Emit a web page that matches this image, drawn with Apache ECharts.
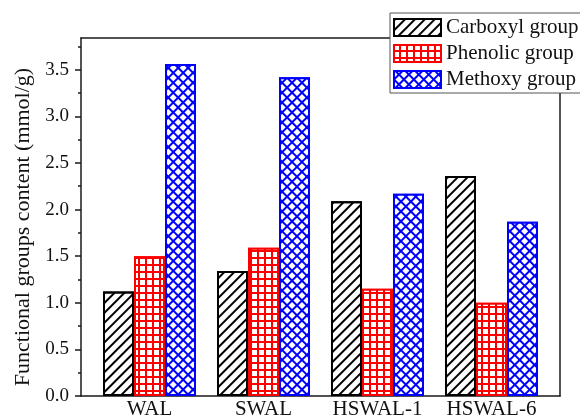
<!DOCTYPE html>
<html><head><meta charset="utf-8">
<script src="https://cdn.jsdelivr.net/npm/echarts@6/dist/echarts.min.js"></script>
<style>html,body{margin:0;padding:0;background:#fff}#c{width:580px;height:418px}</style>
</head><body><div id="c"></div>
<script>
var categories = ['WAL', 'SWAL', 'HSWAL-1', 'HSWAL-6'];
var carboxyl = [1.12, 1.34, 2.09, 2.36];
var phenolic = [1.50, 1.59, 1.15, 1.00];
var methoxy = [3.56, 3.42, 2.17, 1.87];
var seriesNames = ['Carboxyl group', 'Phenolic group', 'Methoxy group'];
var majorTicks = [0, 0.5, 1.0, 1.5, 2.0, 2.5, 3.0, 3.5];
var minorTicks = [0.25, 0.75, 1.25, 1.75, 2.25, 2.75, 3.25, 3.75];
var yMax = 3.84;

var FONT = 'Liberation Serif';
var LC = '#1a1a1a';
var chart = echarts.init(document.getElementById('c'));
var frameX = function (pos) {
  return { gridIndex: 0, type: 'value', min: 0, max: 1, position: pos,
    axisLine: { show: true, onZero: false, lineStyle: { color: LC, width: 1.5 } },
    axisTick: { show: false }, axisLabel: { show: false }, splitLine: { show: false } };
};
chart.setOption({
  animation: false,
  grid: [
    { left: 81, right: 20, top: 38, bottom: 22, outerBoundsMode: 'none', containLabel: false },
    { left: 92.5, right: 31.5, top: 38, bottom: 22, outerBoundsMode: 'none', containLabel: false }
  ],
  legend: {
    orient: 'vertical', left: 390, top: 13, icon: 'rect',
    itemWidth: 47, itemHeight: 17, itemGap: 5, itemTextGap: 7,
    padding: [4, 10, 3, 3],
    backgroundColor: '#fff', borderColor: '#555', borderWidth: 1,
    textStyle: { fontFamily: FONT, fontSize: 21, color: '#111' },
    data: seriesNames
  },
  xAxis: [
    frameX('bottom'),
    frameX('top'),
    { gridIndex: 1, type: 'category', data: categories,
      axisLine: { show: false }, axisTick: { show: false },
      axisLabel: { interval: 0, fontFamily: FONT, fontSize: 21, color: '#111', margin: 3 } }
  ],
  yAxis: [
    { gridIndex: 0, type: 'value', min: 0, max: yMax, position: 'left',
      name: 'Functional groups content (mmol/g)', nameLocation: 'middle', nameGap: 44,
      nameTextStyle: { fontFamily: FONT, fontSize: 22, color: '#111', padding: [0, 20, 0, 0] },
      axisLine: { show: true, onZero: false, lineStyle: { color: LC, width: 1.5 } },
      axisTick: { show: true, inside: false, length: 6, customValues: majorTicks, lineStyle: { color: LC, width: 1.5 } },
      axisLabel: { customValues: majorTicks, fontFamily: FONT, fontSize: 19, color: '#111', margin: 12,
        formatter: function (v) { return v.toFixed(1); } },
      splitLine: { show: false } },
    { gridIndex: 0, type: 'value', min: 0, max: yMax, position: 'left',
      axisLine: { show: false, onZero: false },
      axisTick: { show: true, inside: false, length: 3, customValues: minorTicks, lineStyle: { color: LC, width: 1.5 } },
      axisLabel: { show: false }, splitLine: { show: false } },
    { gridIndex: 0, type: 'value', min: 0, max: yMax, position: 'right',
      axisLine: { show: true, onZero: false, lineStyle: { color: LC, width: 1.5 } },
      axisTick: { show: false }, axisLabel: { show: false }, splitLine: { show: false } },
    { gridIndex: 1, type: 'value', min: 0, max: yMax, show: false }
  ],
  series: [
    { name: seriesNames[0], type: 'bar', xAxisIndex: 2, yAxisIndex: 3, data: carboxyl,
      barWidth: 31, barGap: '0%',
      itemStyle: { color: '#fff', borderColor: '#000', borderWidth: 2,
        decal: { symbol: 'rect', color: '#000', dashArrayX: [1, 0], dashArrayY: [2, 4.5], rotation: -Math.PI / 4 } } },
    { name: seriesNames[1], type: 'bar', xAxisIndex: 2, yAxisIndex: 3, data: phenolic,
      barWidth: 31, barGap: '0%',
      itemStyle: { color: '#ff0000', borderColor: '#ff0000', borderWidth: 2,
        decal: { symbol: 'rect', color: '#fff', dashArrayX: [4.5, 1.6], dashArrayY: [4.5, 1.8], rotation: 0 } } },
    { name: seriesNames[2], type: 'bar', xAxisIndex: 2, yAxisIndex: 3, data: methoxy,
      barWidth: 31, barGap: '0%',
      itemStyle: { color: '#0000ff', borderColor: '#0000ff', borderWidth: 2,
        decal: { symbol: 'rect', color: '#fff', dashArrayX: [4.3, 2], dashArrayY: [4.3, 2], rotation: Math.PI / 4 } } }
  ]
});
</script></body></html>
